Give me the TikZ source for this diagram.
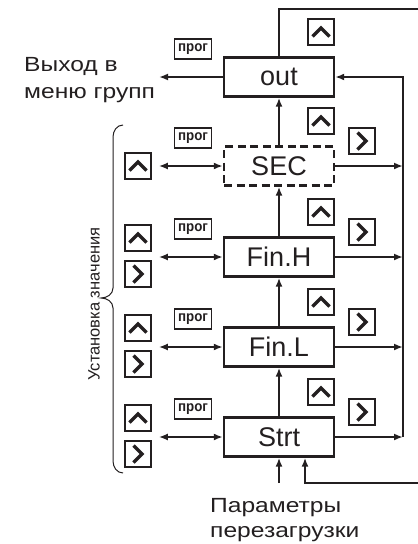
\documentclass[tikz,border=0pt]{standalone}
\usepackage{fontspec}
\setmainfont{Liberation Sans}
\newfontfamily\widefont[FakeStretch=1.2]{Liberation Sans}
\newfontfamily\keyfont[FakeStretch=0.92]{Liberation Sans Bold}
\usetikzlibrary{arrows.meta}

\definecolor{ink}{RGB}{35,31,32}

\tikzset{
  menubox/.style={draw=ink, line width=2.4pt, minimum width=110pt, minimum height=39pt, inner sep=0pt, font=\fontsize{27}{27}\selectfont},
  keybox/.style={draw=ink, line width=1.5pt, minimum size=26pt, inner sep=0pt},
  upkey/.style={keybox, path picture={\draw[ink, line width=3.2pt] ([shift={(-8.5pt,-4.5pt)}]path picture bounding box.center) -- ++(8.5pt,8.5pt) -- ++(8.5pt,-8.5pt);}},
  rightkey/.style={keybox, path picture={\draw[ink, line width=3.2pt] ([shift={(-4.5pt,8.5pt)}]path picture bounding box.center) -- ++(8.5pt,-8.5pt) -- ++(-8.5pt,-8.5pt);}},
  progkey/.style={draw=ink, line width=1.5pt, minimum width=37pt, minimum height=20pt, inner sep=0pt, font=\keyfont\fontsize{14.5}{14.5}\selectfont},
  link/.style={draw=ink, line width=1.9pt, -{Latex[length=9pt,width=7pt]}},
  twoway/.style={link, {Latex[length=9pt,width=7pt]}-{Latex[length=9pt,width=7pt]}},
}

\begin{document}
\begin{tikzpicture}[x=1pt, y=-1pt, ink]
    \useasboundingbox (0,0) rectangle (418,544);
    % menu boxes
    \node[menubox] (out) at (279,77) {out};
    \node[menubox, dash pattern=on 8pt off 4.5pt] (sec) at (279,166) {SEC};
    \node[menubox] (finh) at (279,257) {Fin.H};
    \node[menubox] (finl) at (279,347) {Fin.L};
    \node[menubox] (strt) at (279,437) {Strt};
    % keys
    \foreach \n/\y in {out/77,sec/166,finh/257,finl/347,strt/437}{
        \node[progkey] (prog-\n) at (193,\y-28) {прог};
        \node[upkey] (up-\n) at (321,\y-45) {};
    }
    \foreach \n/\y in {sec/166,finh/257,finl/347,strt/437}
        \node[rightkey] (next-\n) at (362,\y-25) {};
    \node[upkey] (lup-sec) at (138,166) {};
    \foreach \n/\y in {finh/257,finl/347,strt/437}{
        \node[upkey] (lup-\n) at (138,\y-19) {};
        \node[rightkey] (lnext-\n) at (138,\y+17) {};
    }
    % free ends
    \coordinate (bus) at (403,0);
    \coordinate (exit) at (159,77);
    \coordinate (toploop) at (418,9);
    \coordinate (resetin) at (418,483);
    \coordinate (params) at (279,483);
    % connectors
    \draw[link] (out.west) -- (exit);
    \draw[line width=1.9pt] (out.north) |- (toploop);
    \foreach \a/\b in {strt/finl,finl/finh,finh/sec,sec/out}
        \draw[link] (\a.north) -- (\b.south);
    \foreach \n in {sec,finh,finl,strt}{
        \draw[link] (\n.east) -- (\n.east -| bus);
        \draw[twoway] (\n.west) -- ([xshift=-64pt]\n.west);
    }
    \draw[link] (strt.east -| bus) |- (out.east);
    \draw[link] (params) -- (strt.south);
    \draw[link] (resetin) -| ([xshift=26pt]strt.south);
    % labels
    \node[anchor=west, align=left, inner sep=0pt, font=\widefont\fontsize{20.5}{27}\selectfont] (exitlabel) at (24,80) {Выход в\\меню групп};
    \node[anchor=north west, align=left, inner sep=0pt, font=\widefont\fontsize{20.5}{25}\selectfont] (paramlabel) at (210,498) {Параметры\\перезагрузки};
    % brace
    \draw[line width=1pt] (123,125) to[out=180,in=90] (113,137) -- (113,288) to[out=-90,in=0] (101,298)
        to[out=0,in=90] (113,308) -- (113,461) to[out=-90,in=180] (123,473);
    \node[rotate=90, font=\fontsize{16.5}{16.5}\selectfont] (setlabel) at (94,304) {Установка значения};
\end{tikzpicture}
\end{document}
